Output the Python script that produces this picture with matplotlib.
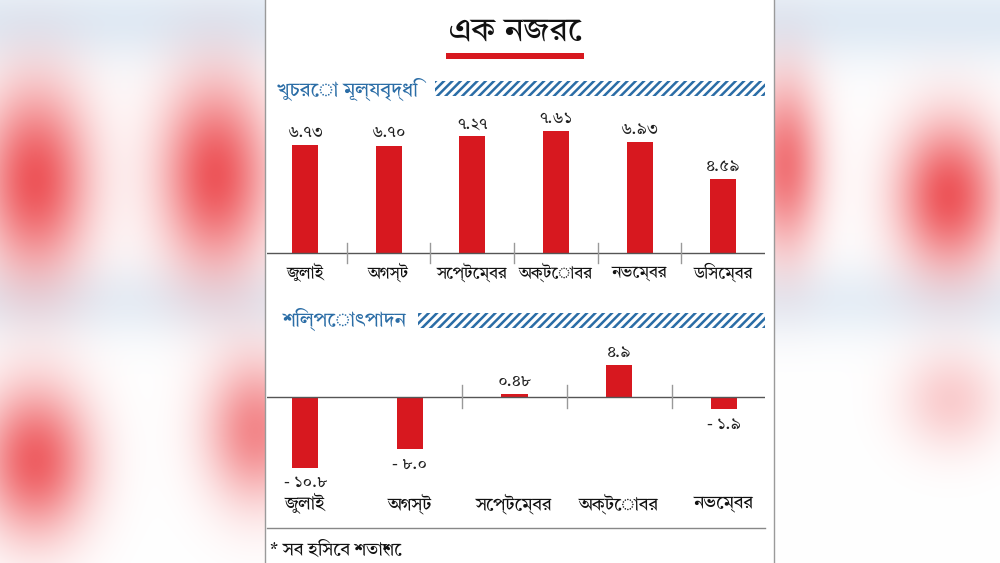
import numpy as np
import matplotlib
matplotlib.use("Agg")
import matplotlib.pyplot as plt
from matplotlib.patches import Rectangle

plt.rcParams["font.family"] = ["Tiro Bangla", "Noto Sans Bengali", "DejaVu Sans"]
plt.rcParams["hatch.linewidth"] = 1.8

# data
title = "এক নজরে"
retail_title = "খুচরো মূল্যবৃদ্ধি"
retail_months = ["জুলাই", "অগস্ট", "সেপ্টেম্বর", "অক্টোবর", "নভেম্বর", "ডিসেম্বর"]
retail_values = [6.73, 6.70, 7.27, 7.61, 6.93, 4.59]
industry_title = "শিল্পোৎপাদন"
industry_months = ["জুলাই", "অগস্ট", "সেপ্টেম্বর", "অক্টোবর", "নভেম্বর"]
industry_values = [-10.8, -8.0, 0.48, 4.9, -1.9]
footnote = "* সব হিসেব শতাংশে"

RED = "#d7181f"
BLUE = "#2b6da6"
GREY = "#555555"

bn_digits = str.maketrans("0123456789", "০১২৩৪৫৬৭৮৯")


def bn(v, nd):
    s = f"{abs(v):.{nd}f}".translate(bn_digits)
    return ("- " + s) if v < 0 else s


W, H = 1000, 563
fig = plt.figure(figsize=(W / 100, H / 100), dpi=100)


def fx(x):
    return x / W


def fy(y):
    return 1 - y / H


# background with blurred red blobs
bg = fig.add_axes([0, 0, 1, 1])
bg.set_axis_off()
yy, xx = np.mgrid[0:H, 0:W]
base = np.ones((H, W, 3))
tint = np.exp(-((yy - 20) / 45.0) ** 2) + 0.8 * np.exp(-((yy - 300) / 40.0) ** 2)
base[..., 0] -= 0.12 * tint
base[..., 1] -= 0.08 * tint
base[..., 2] -= 0.04 * tint
blobs = [(35, 180, 38, 65, 0.85), (215, 175, 38, 65, 0.85), (785, 165, 25, 60, 0.7),
         (948, 195, 36, 52, 0.85), (35, 460, 38, 52, 0.8), (255, 430, 35, 50, 0.6),
         (950, 400, 35, 35, 0.25)]
amt = np.zeros((H, W))
for cx, cy, sx, sy, a in blobs:
    amt += a * np.exp(-(((xx - cx) / sx) ** 2 + ((yy - cy) / sy) ** 2) / 2)
amt = np.clip(amt, 0, 1)
red = np.array([0.92, 0.22, 0.24])
img = base * (1 - amt[..., None]) + red * amt[..., None]
bg.imshow(np.clip(img, 0, 1), extent=(0, W, H, 0), aspect="auto")
bg.set_xlim(0, W)
bg.set_ylim(H, 0)
bg.add_patch(Rectangle((265, 0), 510, H, facecolor="white", edgecolor="none"))
bg.plot([265, 265], [0, H], color="#9a9a9a", lw=1)
bg.plot([774, 774], [0, H], color="#9a9a9a", lw=1)

# title and underline
bg.text(515, 31, title, fontsize=24, ha="center", va="center", color="#111111")
bg.add_patch(Rectangle((446, 53), 138, 6, facecolor=RED, edgecolor="none"))

# section headers with hatched bands
bg.text(277, 89, retail_title, fontsize=14.5, ha="left", va="center", color=BLUE)
bg.add_patch(Rectangle((435, 81), 330, 15, facecolor="white", edgecolor=BLUE,
                       hatch="////", lw=0))
bg.text(283, 319, industry_title, fontsize=14.5, ha="left", va="center", color=BLUE)
bg.add_patch(Rectangle((418, 313), 347, 15, facecolor="white", edgecolor=BLUE,
                       hatch="////", lw=0))

# bottom rule and footnote
bg.plot([267, 765], [528, 528], color="#888888", lw=1)
bg.text(270, 550, footnote, fontsize=13, ha="left", va="center", color="#111111")

# retail inflation chart
ax1 = fig.add_axes([fx(267), fy(290), fx(765) - fx(267), (290 - 110) / H])
s1 = 16.03
ax1.set_xlim(-0.455, 5.5)
ax1.set_ylim(-(290 - 253) / s1, (253 - 110) / s1)
ax1.set_axis_off()
x1 = np.arange(len(retail_values))
ax1.bar(x1, retail_values, width=0.31, color=RED)
ax1.axhline(0, color=GREY, lw=1)
for i in range(len(retail_values) - 1):
    ax1.plot([i + 0.5, i + 0.5], [-10 / s1, 10 / s1], color="#999999", lw=1)
for xi, v in zip(x1, retail_values):
    ax1.annotate(bn(v, 2), (xi, v), xytext=(0, 3), textcoords="offset points",
                 ha="center", va="bottom", fontsize=12, color="#222222")
for xi, m in zip(x1, retail_months):
    ax1.annotate(m, (xi, 0), xytext=(0, -14), textcoords="offset points",
                 ha="center", va="center", fontsize=12, color="#111111")

# industrial production chart
ax2 = fig.add_axes([fx(267), fy(520), fx(765) - fx(267), (520 - 340) / H])
s2 = 6.53
ax2.set_xlim(-0.363, 4.39)
ax2.set_ylim(-(520 - 397) / s2, (397 - 340) / s2)
ax2.set_axis_off()
x2 = np.arange(len(industry_values))
ax2.bar(x2, industry_values, width=0.25, color=RED)
ax2.axhline(0, color=GREY, lw=1)
for i in range(1, len(industry_values) - 1):
    ax2.plot([i + 0.5, i + 0.5], [-11 / s2, 12 / s2], color="#999999", lw=1)
for xi, v in zip(x2, industry_values):
    nd = 2 if abs(v) < 1 else 1
    if v >= 0:
        ax2.annotate(bn(v, nd), (xi, v), xytext=(0, 3), textcoords="offset points",
                     ha="center", va="bottom", fontsize=12, color="#222222")
    else:
        ax2.annotate(bn(v, nd), (xi, v), xytext=(0, -5), textcoords="offset points",
                     ha="center", va="top", fontsize=12, color="#222222")
for xi, m in zip(x2, industry_months):
    ax2.annotate(m, (xi, -18.84), xytext=(0, 12), textcoords="offset points",
                 ha="center", va="center", fontsize=13, color="#111111")

fig.savefig("out.png", dpi=100)
